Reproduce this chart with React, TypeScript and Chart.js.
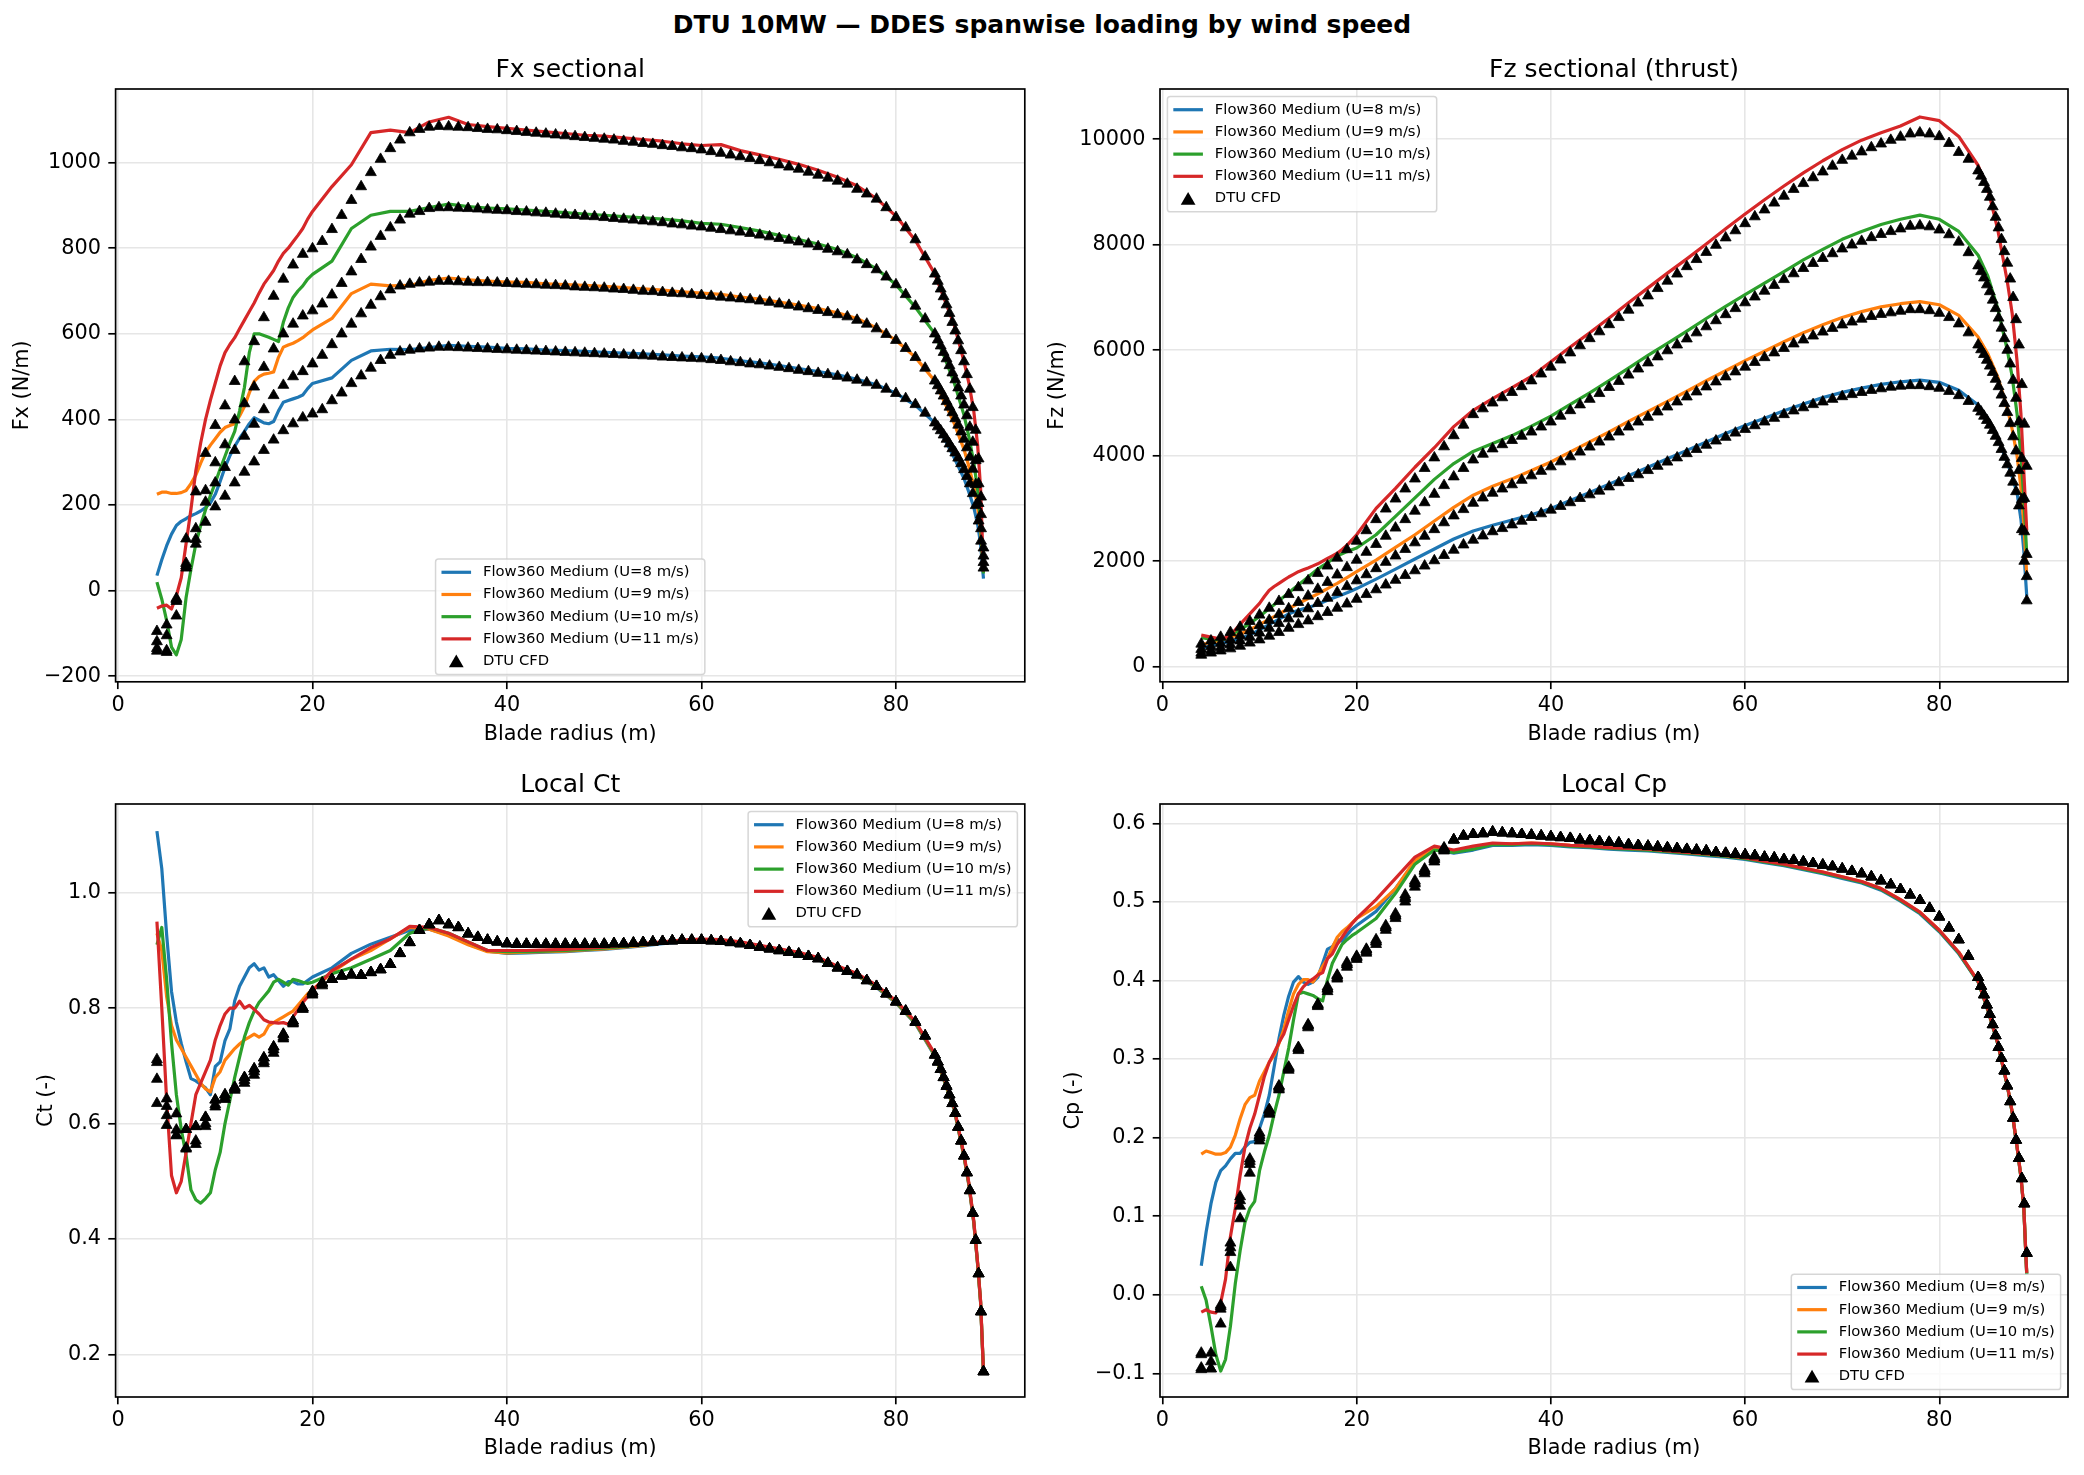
import React, { useEffect, useRef } from "react";
import { Chart, registerables } from "chart.js";

Chart.register(...registerables);

const FONT = '"DejaVu Sans", "Liberation Sans", sans-serif';
Chart.defaults.font.family = FONT;

// ---------------- shared data ----------------
const SPEEDS = ["8", "9", "10", "11"];
const COLORS = ["#1f77b4", "#ff7f0e", "#2ca02c", "#d62728"];
const X_TICKS = [0, 20, 40, 60, 80];

const LINE_X = [4, 4.5, 5, 5.5, 6, 6.5, 7, 7.5, 8, 8.5, 9, 9.5, 10, 10.5, 11, 11.5, 12, 12.5, 13, 13.5, 14, 14.5, 15, 15.5, 16, 16.5, 17, 17.5, 18, 18.5, 19, 19.5, 20,
  22, 24, 26, 28, 30, 32, 34, 36, 38, 40, 42, 44, 46, 48, 50, 52, 54, 56, 58, 60, 62, 64, 66, 68, 70, 72, 74, 76, 78, 80, 82,
  84, 85, 86, 87, 87.5, 88, 88.4, 88.7, 89];

const DTU_X = [4, 5, 6, 7, 8, 9, 10, 11, 12, 13, 14, 15, 16, 17, 18, 19, 20, 21, 22, 23, 24, 25, 26, 27, 28, 29, 30, 31, 32, 33,
  34, 35, 36, 37, 38, 39, 40, 41, 42, 43, 44, 45, 46, 47, 48, 49, 50, 51, 52, 53, 54, 55, 56, 57, 58, 59, 60, 61, 62, 63, 64,
  65, 66, 67, 68, 69, 70, 71, 72, 73, 74, 75, 76, 77, 78, 79, 80, 81, 82, 83, 84,
  84.3, 84.6, 84.9, 85.2, 85.5, 85.8, 86.1, 86.4, 86.7, 87, 87.3, 87.6, 87.9, 88.2, 88.5, 88.75, 89];

// ---------------- Fx sectional ----------------
const FX_TICKS = [-200, 0, 200, 400, 600, 800, 1000];
const FX_LINE_8 = [35, 72, 105, 132, 152, 162, 168, 175, 180, 186, 194, 205, 225, 255, 288, 315, 337, 356, 372, 390, 404, 398, 392, 390, 395, 420, 440, 444, 448, 452, 457, 472, 484,
  497, 538, 560, 564, 563, 568, 573, 571, 569, 566, 565, 562, 561, 559, 557, 555, 553, 551, 548, 546, 543, 537, 532, 526, 519, 512, 504, 494, 481, 461, 433,
  392, 354, 310, 262, 230, 195, 155, 110, 28];
const FX_LINE_9 = [225, 230, 230, 227, 227, 229, 234, 250, 270, 298, 323, 340, 355, 370, 381, 386, 390, 408, 430, 462, 489, 500, 506, 508, 511, 545, 569, 574, 578, 584, 591, 600, 609,
  636, 694, 716, 712, 713, 725, 730, 726, 723, 721, 720, 717, 715, 713, 711, 708, 705, 702, 698, 695, 692, 686, 681, 674, 667, 659, 649, 636, 614, 585, 545,
  490, 440, 390, 330, 290, 245, 195, 140, 45];
const FX_LINE_10 = [20, -20, -70, -132, -150, -114, -16, 50, 109, 152, 189, 222, 252, 284, 314, 345, 372, 420, 475, 556, 600, 600, 596, 592, 587, 582, 627, 660, 685, 700, 712, 728, 739,
  770, 846, 877, 886, 886, 895, 903, 897, 894, 892, 889, 886, 883, 880, 877, 874, 871, 868, 864, 858, 856, 848, 840, 830, 820, 810, 797, 778, 752, 715, 662,
  600, 545, 485, 410, 360, 300, 235, 160, 40];
const FX_LINE_11 = [-41, -36, -34, -43, -12, 30, 110, 190, 280, 345, 400, 445, 485, 525, 556, 575, 591, 612, 632, 652, 672, 695, 716, 732, 748, 770, 788, 800, 815, 830, 846, 868, 886,
  944, 995, 1070, 1076, 1070, 1095, 1106, 1089, 1084, 1080, 1076, 1072, 1068, 1064, 1062, 1058, 1054, 1050, 1044, 1040, 1042, 1028, 1018, 1008, 996, 982, 966, 946, 916, 875, 818,
  740, 680, 620, 535, 485, 420, 340, 240, 45];

const FX_DTU_8 = [-95, -80, -21, 53, 109, 160, 196, 221, 252, 277, 301, 328, 352, 374, 390, 404, 413, 423, 444, 462, 484, 502, 520, 538, 550, 558, 562, 565, 567, 569,
  569, 568, 567, 566, 565, 564, 563, 562, 561, 560, 559, 558, 557, 556, 555, 554, 553, 552, 551, 550, 549, 548, 546, 545, 544, 543, 542, 540, 538, 535, 533,
  530, 528, 525, 522, 519, 515, 512, 508, 505, 501, 497, 492, 486, 480, 471, 461, 449, 435, 415, 392,
  383, 374, 364, 354, 343, 332, 322, 310, 297, 283, 267, 250, 227, 199, 163, 116, 53];
const FX_DTU_9 = [-119, -105, -59, 58, 120, 207, 252, 288, 328, 361, 389, 423, 456, 480, 500, 512, 530, 550, 575, 600, 623, 647, 667, 687, 703, 712, 716, 719, 721, 723,
  723, 722, 721, 720, 720, 719, 718, 717, 716, 715, 714, 713, 712, 710, 709, 708, 707, 705, 704, 702, 700, 699, 697, 695, 694, 692, 690, 688, 686, 684, 682,
  680, 677, 674, 670, 667, 663, 659, 655, 650, 645, 640, 632, 623, 612, 599, 585, 566, 545, 520, 490,
  479, 467, 455, 442, 429, 416, 402, 387, 371, 354, 334, 312, 284, 248, 204, 145, 66];
const FX_DTU_10 = [-141, -144, -25, 64, 145, 234, 299, 341, 399, 437, 476, 522, 565, 600, 623, 642, 654, 670, 691, 718, 745, 774, 803, 828, 848, 866, 880, 886, 893, 895,
  895, 894, 893, 892, 890, 889, 888, 886, 885, 883, 882, 880, 878, 877, 875, 874, 872, 870, 868, 866, 864, 862, 860, 857, 855, 852, 850, 847, 844, 841, 838,
  835, 831, 827, 823, 819, 815, 810, 804, 798, 792, 785, 773, 762, 750, 733, 715, 692, 665, 635, 600,
  586, 572, 557, 542, 526, 509, 493, 474, 455, 434, 409, 382, 347, 304, 250, 178, 81];
const FX_DTU_11 = [-135, -140, -18, 121, 231, 321, 386, 432, 489, 535, 582, 638, 688, 728, 761, 786, 799, 816, 844, 877, 912, 944, 977, 1008, 1033, 1053, 1070, 1078, 1083, 1085,
  1084, 1083, 1082, 1080, 1078, 1077, 1075, 1073, 1071, 1069, 1067, 1065, 1063, 1061, 1059, 1057, 1055, 1053, 1050, 1048, 1045, 1043, 1040, 1038, 1035, 1033, 1030, 1026, 1022, 1018, 1014,
  1010, 1005, 1000, 995, 990, 985, 978, 971, 964, 957, 950, 938, 927, 915, 895, 872, 848, 820, 780, 740,
  723, 705, 687, 668, 648, 627, 607, 584, 561, 535, 505, 471, 428, 375, 308, 219, 100];

// ---------------- Fz sectional (thrust) ----------------
const FZ_TICKS = [0, 2000, 4000, 6000, 8000, 10000];
const FZ_LINE_8 = [350, 370, 400, 420, 440, 460, 480, 505, 530, 565, 600, 650, 700, 750, 800, 850, 900, 950, 1000, 1035, 1070, 1095, 1120, 1150, 1180, 1220, 1260, 1295, 1330, 1365, 1400, 1440, 1480,
  1660, 1850, 2040, 2230, 2420, 2570, 2680, 2780, 2880, 3000, 3150, 3300, 3460, 3620, 3780, 3940, 4100, 4260, 4420, 4570, 4710, 4850, 4980, 5100, 5200, 5280, 5350, 5400, 5430, 5390, 5240,
  4960, 4700, 4330, 3870, 3600, 3300, 2800, 2200, 1340];
const FZ_LINE_9 = [420, 440, 460, 480, 500, 530, 560, 590, 620, 660, 700, 750, 800, 850, 900, 950, 1000, 1050, 1100, 1150, 1200, 1245, 1290, 1335, 1380, 1430, 1480, 1530, 1580, 1635, 1690, 1745, 1800,
  2020, 2260, 2500, 2760, 3020, 3250, 3420, 3560, 3720, 3880, 4070, 4260, 4450, 4650, 4840, 5030, 5220, 5420, 5610, 5800, 5980, 6160, 6330, 6480, 6620, 6730, 6820, 6880, 6920, 6860, 6660,
  6250, 5930, 5500, 4900, 4500, 4000, 3400, 2700, 1740];
const FZ_LINE_10 = [550, 535, 520, 510, 500, 540, 600, 650, 700, 760, 820, 885, 950, 1025, 1100, 1175, 1250, 1325, 1400, 1475, 1550, 1625, 1700, 1775, 1850, 1910, 1970, 2035, 2100, 2140, 2180, 2215, 2250,
  2500, 2850, 3200, 3550, 3850, 4080, 4230, 4380, 4560, 4750, 4970, 5190, 5420, 5660, 5900, 6130, 6360, 6600, 6830, 7050, 7270, 7490, 7710, 7910, 8100, 8250, 8380, 8480, 8560, 8480, 8250,
  7800, 7400, 6800, 6000, 5500, 4800, 4000, 3200, 2140];
const FZ_LINE_11 = [600, 580, 560, 540, 520, 550, 600, 700, 800, 900, 1000, 1100, 1200, 1330, 1450, 1520, 1580, 1640, 1700, 1750, 1800, 1835, 1870, 1910, 1950, 2000, 2050, 2100, 2150, 2220, 2300, 2400, 2500,
  3000, 3380, 3780, 4150, 4550, 4860, 5080, 5290, 5500, 5780, 6060, 6330, 6610, 6900, 7180, 7460, 7730, 8010, 8300, 8580, 8850, 9110, 9360, 9590, 9800, 9980, 10120, 10250, 10420, 10350, 10050,
  9500, 9050, 8300, 7300, 6700, 5800, 4800, 3700, 2580];

const FZ_DTU_8 = [220, 260, 300, 340, 390, 450, 510, 580, 650, 730, 800, 870, 950, 1030, 1110, 1190, 1280, 1370, 1460, 1550,
  1640, 1730, 1820, 1910, 2010, 2110, 2210, 2310, 2400, 2480, 2560, 2620, 2690, 2760, 2830, 2900, 2970, 3040, 3110, 3190,
  3260, 3330, 3410, 3490, 3570, 3640, 3720, 3800, 3880, 3960, 4040, 4120, 4200, 4280, 4350, 4430, 4500, 4570, 4640, 4710,
  4780, 4850, 4910, 4970, 5020, 5070, 5120, 5160, 5200, 5240, 5270, 5300, 5320, 5330, 5330, 5310, 5280, 5220, 5140, 5030, 4900,
  4830, 4750, 4670, 4580, 4480, 4370, 4250, 4120, 3970, 3830, 3670, 3500, 3320, 3050, 2600, 2000, 1250];
const FZ_DTU_9 = [260, 310, 360, 420, 490, 560, 640, 730, 820, 910, 1000, 1100, 1200, 1300, 1410, 1520, 1630, 1745, 1860, 1980,
  2100, 2225, 2350, 2475, 2600, 2730, 2860, 2980, 3100, 3200, 3290, 3370, 3450, 3535, 3620, 3705, 3790, 3885, 3980, 4070,
  4165, 4260, 4355, 4450, 4545, 4640, 4730, 4830, 4925, 5020, 5115, 5210, 5305, 5400, 5495, 5590, 5680, 5770, 5860, 5950,
  6035, 6120, 6195, 6270, 6345, 6415, 6480, 6535, 6590, 6640, 6680, 6710, 6740, 6770, 6770, 6750, 6700, 6620, 6500, 6330, 6100,
  6010, 5920, 5810, 5700, 5580, 5450, 5310, 5150, 4990, 4820, 4610, 4360, 4090, 3720, 3170, 2560, 1710];
const FZ_DTU_10 = [330, 380, 440, 510, 590, 680, 780, 880, 990, 1100, 1220, 1340, 1470, 1600, 1740, 1880, 2020, 2170, 2320, 2475,
  2630, 2790, 2950, 3110, 3270, 3435, 3600, 3760, 3920, 4030, 4130, 4210, 4290, 4370, 4450, 4545, 4640, 4750, 4855, 4965,
  5070, 5180, 5295, 5410, 5530, 5645, 5760, 5875, 5990, 6100, 6215, 6330, 6445, 6560, 6675, 6790, 6900, 7010, 7120, 7230,
  7340, 7450, 7550, 7645, 7740, 7830, 7920, 7995, 8065, 8135, 8195, 8250, 8300, 8350, 8360, 8340, 8280, 8190, 8050, 7850, 7600,
  7490, 7370, 7240, 7110, 6950, 6790, 6610, 6420, 6220, 6000, 5740, 5430, 5090, 4640, 3950, 3190, 2130];
const FZ_DTU_11 = [430, 490, 560, 650, 750, 860, 980, 1110, 1240, 1370, 1500, 1630, 1770, 1910, 2060, 2220, 2380, 2580, 2790, 2990,
  3180, 3370, 3560, 3760, 3960, 4170, 4380, 4580, 4780, 4890, 5000, 5100, 5200, 5310, 5420, 5550, 5680, 5815, 5950, 6085,
  6220, 6350, 6485, 6620, 6760, 6895, 7030, 7170, 7310, 7445, 7585, 7720, 7855, 7990, 8130, 8265, 8400, 8530, 8660, 8790,
  8920, 9050, 9160, 9270, 9380, 9490, 9600, 9680, 9760, 9840, 9910, 9980, 10040, 10100, 10120, 10100, 10050, 9920, 9750, 9620, 9400,
  9300, 9180, 9050, 8900, 8720, 8520, 8320, 8100, 7870, 7650, 7350, 7000, 6580, 6100, 5350, 4600, 3800];

// ---------------- Local Ct ----------------
const CT_TICKS = [0.2, 0.4, 0.6, 0.8, 1.0];
const CT_LINE_8 = [1.107, 1.042, 0.927, 0.829, 0.776, 0.739, 0.707, 0.678, 0.674, 0.668, 0.662, 0.650, 0.699, 0.707, 0.744, 0.764, 0.813, 0.838, 0.854, 0.870, 0.877, 0.866, 0.870, 0.854, 0.858, 0.848, 0.838, 0.846, 0.846, 0.842, 0.842, 0.848, 0.854,
  0.870, 0.895, 0.911, 0.923, 0.935, 0.937, 0.927, 0.911, 0.899, 0.895, 0.896, 0.897, 0.898, 0.900, 0.902, 0.905, 0.908, 0.912, 0.915, 0.917, 0.915, 0.911, 0.905, 0.899, 0.893, 0.884, 0.869, 0.856, 0.836, 0.809, 0.773,
  0.717, 0.672, 0.623, 0.542, 0.493, 0.428, 0.355, 0.290, 0.168];
const CT_LINE_9 = [0.930, 0.900, 0.820, 0.770, 0.745, 0.730, 0.715, 0.700, 0.685, 0.670, 0.660, 0.655, 0.680, 0.690, 0.710, 0.720, 0.730, 0.738, 0.745, 0.750, 0.755, 0.750, 0.755, 0.770, 0.775, 0.780, 0.785, 0.790, 0.795, 0.805, 0.815, 0.825, 0.832,
  0.862, 0.885, 0.900, 0.920, 0.940, 0.937, 0.925, 0.910, 0.898, 0.896, 0.897, 0.898, 0.899, 0.901, 0.903, 0.906, 0.909, 0.913, 0.916, 0.918, 0.916, 0.912, 0.906, 0.900, 0.894, 0.885, 0.870, 0.857, 0.837, 0.810, 0.774,
  0.718, 0.673, 0.624, 0.543, 0.494, 0.429, 0.356, 0.291, 0.169];
const CT_LINE_10 = [0.910, 0.940, 0.850, 0.740, 0.650, 0.590, 0.545, 0.485, 0.468, 0.462, 0.470, 0.480, 0.520, 0.550, 0.600, 0.640, 0.680, 0.715, 0.750, 0.775, 0.795, 0.810, 0.820, 0.830, 0.845, 0.850, 0.845, 0.840, 0.850, 0.848, 0.845, 0.843, 0.845,
  0.860, 0.870, 0.885, 0.900, 0.930, 0.940, 0.930, 0.915, 0.900, 0.898, 0.898, 0.899, 0.900, 0.902, 0.904, 0.907, 0.910, 0.914, 0.917, 0.919, 0.917, 0.913, 0.907, 0.901, 0.895, 0.886, 0.871, 0.858, 0.838, 0.811, 0.775,
  0.719, 0.674, 0.625, 0.544, 0.495, 0.430, 0.357, 0.292, 0.170];
const CT_LINE_11 = [0.950, 0.800, 0.640, 0.510, 0.480, 0.500, 0.550, 0.600, 0.650, 0.670, 0.690, 0.710, 0.745, 0.770, 0.790, 0.800, 0.800, 0.812, 0.800, 0.805, 0.798, 0.790, 0.780, 0.776, 0.775, 0.774, 0.775, 0.772, 0.785, 0.797, 0.810, 0.820, 0.830,
  0.865, 0.885, 0.905, 0.920, 0.942, 0.940, 0.930, 0.915, 0.900, 0.900, 0.900, 0.901, 0.902, 0.904, 0.906, 0.909, 0.912, 0.915, 0.918, 0.920, 0.919, 0.915, 0.909, 0.903, 0.897, 0.888, 0.873, 0.860, 0.840, 0.813, 0.777,
  0.721, 0.676, 0.627, 0.546, 0.497, 0.432, 0.359, 0.294, 0.172];

// DTU Ct: root part (r = 4..21 m) differs per wind speed, outer part (22 m to tip) is common
const CT_DTU_8_ROOT = [0.711, 0.643, 0.617, 0.590, 0.595, 0.611, 0.641, 0.650, 0.663, 0.680, 0.695, 0.714, 0.733, 0.755, 0.778, 0.801, 0.829, 0.844];
const CT_DTU_9_ROOT = [0.706, 0.630, 0.589, 0.558, 0.570, 0.595, 0.629, 0.642, 0.658, 0.670, 0.684, 0.704, 0.722, 0.747, 0.773, 0.798, 0.823, 0.839];
const CT_DTU_10_ROOT = [0.677, 0.614, 0.579, 0.556, 0.564, 0.600, 0.633, 0.645, 0.660, 0.675, 0.690, 0.708, 0.728, 0.750, 0.775, 0.800, 0.826, 0.842];
const CT_DTU_11_ROOT = [0.635, 0.597, 0.580, 0.590, 0.595, 0.611, 0.641, 0.650, 0.663, 0.680, 0.695, 0.714, 0.733, 0.755, 0.778, 0.801, 0.829, 0.844];
const CT_DTU_OUTER = [0.850, 0.856, 0.858, 0.857, 0.862, 0.867, 0.876, 0.895, 0.914, 0.935, 0.945, 0.952, 0.945, 0.940, 0.929, 0.923, 0.918, 0.915, 0.912,
  0.911, 0.911, 0.911, 0.911, 0.911, 0.911, 0.911, 0.911, 0.911, 0.911,
  0.912, 0.912, 0.913, 0.914, 0.915, 0.916, 0.917, 0.918, 0.918, 0.918,
  0.917, 0.916, 0.914, 0.912, 0.909, 0.906, 0.903, 0.900, 0.897, 0.894,
  0.890, 0.886, 0.878, 0.870, 0.864, 0.858, 0.848, 0.838, 0.825, 0.811,
  0.795, 0.776, 0.752, 0.719,
  0.707, 0.694, 0.680, 0.665, 0.650, 0.635, 0.618, 0.594, 0.570, 0.544, 0.515, 0.484, 0.445, 0.398, 0.340, 0.274, 0.170];

// ---------------- Local Cp ----------------
const CP_TICKS = [-0.1, 0.0, 0.1, 0.2, 0.3, 0.4, 0.5, 0.6];
const CP_LINE_8 = [0.037, 0.080, 0.116, 0.143, 0.158, 0.164, 0.173, 0.180, 0.180, 0.188, 0.194, 0.195, 0.212, 0.230, 0.254, 0.290, 0.326, 0.356, 0.380, 0.398, 0.405, 0.398, 0.395, 0.398, 0.404, 0.422, 0.440, 0.443, 0.452, 0.450, 0.458, 0.465, 0.470,
  0.488, 0.517, 0.551, 0.567, 0.562, 0.566, 0.572, 0.572, 0.573, 0.572, 0.570, 0.569, 0.567, 0.566, 0.565, 0.563, 0.561, 0.559, 0.557, 0.554, 0.550, 0.546, 0.541, 0.536, 0.530, 0.524, 0.515, 0.501, 0.485, 0.462, 0.434,
  0.398, 0.362, 0.320, 0.266, 0.232, 0.188, 0.150, 0.110, 0.026];
const CP_LINE_9 = [0.179, 0.183, 0.181, 0.179, 0.179, 0.181, 0.188, 0.203, 0.224, 0.242, 0.251, 0.254, 0.272, 0.284, 0.296, 0.305, 0.320, 0.338, 0.362, 0.383, 0.395, 0.401, 0.401, 0.398, 0.407, 0.418, 0.428, 0.442, 0.455, 0.462, 0.467, 0.473, 0.479,
  0.494, 0.517, 0.553, 0.567, 0.564, 0.568, 0.574, 0.574, 0.575, 0.574, 0.572, 0.571, 0.569, 0.568, 0.567, 0.565, 0.563, 0.561, 0.559, 0.556, 0.552, 0.548, 0.543, 0.538, 0.532, 0.526, 0.517, 0.503, 0.487, 0.464, 0.436,
  0.399, 0.363, 0.321, 0.267, 0.233, 0.189, 0.151, 0.111, 0.027];
const CP_LINE_10 = [0.011, -0.007, -0.040, -0.076, -0.097, -0.082, -0.040, 0.014, 0.056, 0.092, 0.110, 0.119, 0.158, 0.182, 0.203, 0.230, 0.254, 0.284, 0.314, 0.350, 0.383, 0.385, 0.383, 0.381, 0.377, 0.374, 0.401, 0.422, 0.434, 0.446, 0.452, 0.457, 0.461,
  0.479, 0.511, 0.548, 0.566, 0.563, 0.567, 0.573, 0.573, 0.574, 0.573, 0.571, 0.570, 0.568, 0.567, 0.566, 0.564, 0.562, 0.560, 0.558, 0.555, 0.551, 0.547, 0.542, 0.537, 0.531, 0.525, 0.516, 0.502, 0.486, 0.463, 0.435,
  0.398, 0.362, 0.320, 0.266, 0.232, 0.188, 0.150, 0.110, 0.026];
const CP_LINE_11 = [-0.022, -0.019, -0.022, -0.023, -0.010, 0.020, 0.074, 0.110, 0.152, 0.188, 0.212, 0.230, 0.254, 0.278, 0.296, 0.308, 0.321, 0.332, 0.350, 0.368, 0.383, 0.392, 0.398, 0.402, 0.407, 0.410, 0.428, 0.434, 0.446, 0.455, 0.464, 0.472, 0.479,
  0.503, 0.530, 0.557, 0.571, 0.566, 0.571, 0.575, 0.574, 0.575, 0.574, 0.572, 0.571, 0.569, 0.568, 0.567, 0.565, 0.563, 0.561, 0.559, 0.556, 0.552, 0.548, 0.543, 0.538, 0.532, 0.526, 0.517, 0.503, 0.487, 0.464, 0.436,
  0.399, 0.363, 0.321, 0.267, 0.233, 0.189, 0.151, 0.111, 0.028];

// DTU Cp: root part (4..29 m) per wind speed, outer part (30 m to tip) common
const CP_DTU_8_ROOT = [-0.074, -0.074, -0.013, 0.066, 0.125, 0.173, 0.206, 0.236, 0.266, 0.290, 0.315, 0.344, 0.370, 0.392, 0.407, 0.423, 0.431, 0.440, 0.452, 0.470, 0.485, 0.509, 0.527, 0.542, 0.557, 0.569];
const CP_DTU_9_ROOT = [-0.093, -0.085, -0.018, 0.054, 0.113, 0.166, 0.200, 0.230, 0.261, 0.286, 0.311, 0.340, 0.367, 0.386, 0.402, 0.417, 0.427, 0.435, 0.446, 0.464, 0.479, 0.500, 0.519, 0.536, 0.551, 0.565];
const CP_DTU_10_ROOT = [-0.095, -0.094, -0.037, 0.035, 0.097, 0.155, 0.196, 0.232, 0.263, 0.288, 0.313, 0.342, 0.368, 0.389, 0.404, 0.420, 0.429, 0.437, 0.449, 0.467, 0.482, 0.504, 0.523, 0.539, 0.554, 0.567];
const CP_DTU_11_ROOT = [-0.076, -0.094, -0.015, 0.060, 0.120, 0.170, 0.203, 0.235, 0.265, 0.289, 0.314, 0.343, 0.369, 0.390, 0.406, 0.421, 0.430, 0.439, 0.450, 0.468, 0.483, 0.506, 0.525, 0.540, 0.555, 0.568];
const CP_DTU_OUTER = [0.579, 0.584, 0.586, 0.587, 0.589, 0.588, 0.587, 0.586, 0.585, 0.584, 0.583,
  0.582, 0.581, 0.579, 0.578, 0.577, 0.576, 0.575, 0.573, 0.572, 0.571,
  0.570, 0.569, 0.568, 0.567, 0.566, 0.565, 0.563, 0.562, 0.561, 0.560,
  0.559, 0.557, 0.556, 0.554, 0.553, 0.551, 0.549, 0.547, 0.545, 0.542,
  0.539, 0.536, 0.532, 0.527, 0.522, 0.516, 0.509, 0.502, 0.492, 0.481,
  0.467, 0.452, 0.431, 0.404,
  0.393, 0.382, 0.369, 0.357, 0.344, 0.330, 0.315, 0.301, 0.285, 0.266, 0.246, 0.225, 0.197, 0.174, 0.148, 0.116, 0.053];

// ---------------- helpers ----------------
const MINUS = "\u2212";
const fmtInt = (v: number) => (v < 0 ? MINUS + String(Math.abs(Math.round(v))) : String(Math.round(v)));
const fmtOne = (v: number) => {
  const s = Math.abs(v).toFixed(1);
  return v < -1e-9 ? MINUS + s : s;
};

function pair(xs: number[], ys: number[]) {
  const n = Math.min(xs.length, ys.length);
  const out: { x: number; y: number }[] = [];
  for (let i = 0; i < n; i++) out.push({ x: xs[i], y: ys[i] });
  return out;
}

type Loc = "lower center" | "upper left" | "upper right" | "lower right";
type Rect = { x: number; y: number; w: number; h: number };
type Axes = { l: number; t: number; r: number; b: number };

type PanelSpec = {
  title: string;
  ylabel: string;
  lines: number[][];
  dtu: number[][];
  yMin: number;
  yMax: number;
  yTicks: number[];
  fmt: (v: number) => string;
  loc: Loc;
  canvas: Rect;
  axes: Axes;
  ylabelPad: number;
  xlabelPad: number;
};

const GRID = "#e6e6e6";
const TICK_FONT = 20.8;
const LEGEND_FS = 14.8;
const LINE_W = 3.2;
const TRI_R = 6.3;
const LEGEND_TRI_R = 8.5;

function triPath(ctx: CanvasRenderingContext2D, x: number, y: number, r: number) {
  let rad = 0;
  ctx.beginPath();
  ctx.moveTo(x + Math.sin(rad) * r, y - Math.cos(rad) * r);
  rad += (2 * Math.PI) / 3;
  ctx.lineTo(x + Math.sin(rad) * r, y - Math.cos(rad) * r);
  rad += (2 * Math.PI) / 3;
  ctx.lineTo(x + Math.sin(rad) * r, y - Math.cos(rad) * r);
  ctx.closePath();
}

function makeDecor(spec: PanelSpec) {
  return {
    id: "mplDecor",
    afterDraw(chart: any) {
      const ctx: CanvasRenderingContext2D = chart.ctx;
      const a = chart.chartArea;
      ctx.save();
      // spines
      ctx.strokeStyle = "#000";
      ctx.lineWidth = 1.67;
      ctx.strokeRect(a.left, a.top, a.right - a.left, a.bottom - a.top);
      // subplot title
      ctx.fillStyle = "#000";
      ctx.font = `25px ${FONT}`;
      ctx.textAlign = "center";
      ctx.textBaseline = "alphabetic";
      ctx.fillText(spec.title, (a.left + a.right) / 2, a.top - 12.5);
      // legend
      const fs = LEGEND_FS;
      ctx.font = `${fs}px ${FONT}`;
      const labels = [...SPEEDS.map((s) => `Flow360 Medium (U=${s} m/s)`), "DTU CFD"];
      const tw = Math.max(...labels.map((l) => ctx.measureText(l).width));
      const bp = 0.4 * fs, ls = 0.5 * fs, hl = 2 * fs, htp = 0.8 * fs, bap = 0.5 * fs, rh = fs;
      const W = 2 * bp + hl + htp + tw;
      const H = 2 * bp + labels.length * rh + (labels.length - 1) * ls;
      let x = a.left + bap, y = a.top + bap;
      if (spec.loc === "lower center") { x = (a.left + a.right) / 2 - W / 2; y = a.bottom - bap - H; }
      else if (spec.loc === "upper right") { x = a.right - bap - W; y = a.top + bap; }
      else if (spec.loc === "lower right") { x = a.right - bap - W; y = a.bottom - bap - H; }
      const rr = 0.2 * fs;
      ctx.beginPath();
      ctx.moveTo(x + rr, y);
      ctx.lineTo(x + W - rr, y);
      ctx.arcTo(x + W, y, x + W, y + rr, rr);
      ctx.lineTo(x + W, y + H - rr);
      ctx.arcTo(x + W, y + H, x + W - rr, y + H, rr);
      ctx.lineTo(x + rr, y + H);
      ctx.arcTo(x, y + H, x, y + H - rr, rr);
      ctx.lineTo(x, y + rr);
      ctx.arcTo(x, y, x + rr, y, rr);
      ctx.closePath();
      ctx.fillStyle = "rgba(255,255,255,0.8)";
      ctx.fill();
      ctx.strokeStyle = "rgba(204,204,204,0.8)";
      ctx.lineWidth = 1.5;
      ctx.stroke();
      labels.forEach((lab, i) => {
        const cy = y + bp + rh / 2 + i * (rh + ls);
        const hx = x + bp;
        if (i < 4) {
          ctx.strokeStyle = COLORS[i];
          ctx.lineWidth = LINE_W;
          ctx.beginPath();
          ctx.moveTo(hx, cy);
          ctx.lineTo(hx + hl, cy);
          ctx.stroke();
        } else {
          triPath(ctx, hx + hl / 2, cy + 2, LEGEND_TRI_R);
          ctx.fillStyle = "#000";
          ctx.fill();
        }
        ctx.fillStyle = "#000";
        ctx.textAlign = "left";
        ctx.textBaseline = "middle";
        ctx.fillText(lab, hx + hl + htp, cy);
      });
      ctx.restore();
    },
  };
}

function Panel({ spec }: { spec: PanelSpec }) {
  const ref = useRef<HTMLCanvasElement | null>(null);
  useEffect(() => {
    if (!ref.current) return;
    const cv = spec.canvas;
    const ax = spec.axes;
    const datasets: any[] = [];
    spec.dtu.forEach((ys) => {
      datasets.push({
        label: "DTU CFD",
        data: pair(DTU_X, ys),
        showLine: false,
        pointStyle: "triangle",
        pointRadius: TRI_R,
        pointBackgroundColor: "#000",
        pointBorderColor: "#000",
        pointBorderWidth: 0.8,
        order: 0,
      });
    });
    spec.lines.forEach((ys, i) => {
      datasets.push({
        label: `Flow360 Medium (U=${SPEEDS[i]} m/s)`,
        data: pair(LINE_X, ys),
        showLine: true,
        borderColor: COLORS[i],
        backgroundColor: COLORS[i],
        borderWidth: LINE_W,
        borderJoinStyle: "round",
        pointRadius: 0,
        fill: false,
        tension: 0,
        // later wind speeds are drawn on top (as in the reference)
        order: 4 - i,
      });
    });
    const chart = new Chart(ref.current, {
      type: "scatter",
      data: { datasets },
      options: {
        responsive: false,
        animation: false,
        devicePixelRatio: 1,
        events: [],
        layout: { padding: { left: 0, top: ax.t - cv.y, right: cv.w - (ax.r - cv.x), bottom: 0 } },
        plugins: { legend: { display: false }, tooltip: { enabled: false }, title: { display: false } },
        scales: {
          x: {
            type: "linear",
            min: -0.25,
            max: 93.25,
            bounds: "data",
            afterBuildTicks: (s: any) => { s.ticks = X_TICKS.map((v) => ({ value: v })); },
            afterFit: (s: any) => { s.height = cv.h - (ax.b - cv.y); },
            ticks: { font: { size: TICK_FONT, family: FONT }, color: "#000", padding: 4, maxRotation: 0, autoSkip: false, callback: (v: any) => fmtInt(Number(v)) },
            grid: { color: GRID, lineWidth: 1.6, tickLength: 7.3, tickColor: "#000", tickWidth: 1.67 },
            border: { display: false },
            title: { display: true, text: "Blade radius (m)", font: { size: TICK_FONT, family: FONT }, color: "#000", padding: { top: 0, bottom: spec.xlabelPad } },
          },
          y: {
            type: "linear",
            min: spec.yMin,
            max: spec.yMax,
            bounds: "data",
            afterBuildTicks: (s: any) => { s.ticks = spec.yTicks.map((v) => ({ value: v })); },
            afterFit: (s: any) => { s.width = ax.l - cv.x; },
            ticks: { font: { size: TICK_FONT, family: FONT }, color: "#000", padding: 7.3, autoSkip: false, callback: (v: any) => spec.fmt(Number(v)) },
            grid: { color: GRID, lineWidth: 1.6, tickLength: 7.3, tickColor: "#000", tickWidth: 1.67 },
            border: { display: false },
            title: { display: true, text: spec.ylabel, font: { size: TICK_FONT, family: FONT }, color: "#000", padding: { top: spec.ylabelPad, bottom: 0 } },
          },
        },
      } as any,
      plugins: [makeDecor(spec) as any],
    });
    return () => chart.destroy();
  }, [spec]);
  const c = spec.canvas;
  return (
    <canvas
      ref={ref}
      width={c.w}
      height={c.h}
      style={{ position: "absolute", left: c.x, top: c.y, width: c.w, height: c.h }}
    />
  );
}

const PANELS: PanelSpec[] = [
  {
    title: "Fx sectional", ylabel: "Fx (N/m)",
    lines: [FX_LINE_8, FX_LINE_9, FX_LINE_10, FX_LINE_11],
    dtu: [FX_DTU_8, FX_DTU_9, FX_DTU_10, FX_DTU_11],
    yMin: -213, yMax: 1172, yTicks: FX_TICKS, fmt: fmtInt, loc: "lower center",
    canvas: { x: 0, y: 0, w: 1042, h: 762 }, axes: { l: 115.6, t: 89, r: 1024.8, b: 681.8 },
    ylabelPad: 10, xlabelPad: 14.5,
  },
  {
    title: "Fz sectional (thrust)", ylabel: "Fz (N/m)",
    lines: [FZ_LINE_8, FZ_LINE_9, FZ_LINE_10, FZ_LINE_11],
    dtu: [FZ_DTU_8, FZ_DTU_9, FZ_DTU_10, FZ_DTU_11],
    yMin: -287, yMax: 10950, yTicks: FZ_TICKS, fmt: fmtInt, loc: "upper left",
    canvas: { x: 1042, y: 0, w: 1042, h: 762 }, axes: { l: 1160, t: 89, r: 2068, b: 681.8 },
    ylabelPad: 3.5, xlabelPad: 14.5,
  },
  {
    title: "Local Ct", ylabel: "Ct (-)",
    lines: [CT_LINE_8, CT_LINE_9, CT_LINE_10, CT_LINE_11],
    dtu: [
      [...CT_DTU_8_ROOT, ...CT_DTU_OUTER],
      [...CT_DTU_9_ROOT, ...CT_DTU_OUTER],
      [...CT_DTU_10_ROOT, ...CT_DTU_OUTER],
      [...CT_DTU_11_ROOT, ...CT_DTU_OUTER],
    ],
    yMin: 0.126, yMax: 1.154, yTicks: CT_TICKS, fmt: fmtOne, loc: "upper right",
    canvas: { x: 0, y: 762, w: 1042, h: 713 }, axes: { l: 115.6, t: 804, r: 1024.8, b: 1397 },
    ylabelPad: 34, xlabelPad: 13.5,
  },
  {
    title: "Local Cp", ylabel: "Cp (-)",
    lines: [CP_LINE_8, CP_LINE_9, CP_LINE_10, CP_LINE_11],
    dtu: [
      [...CP_DTU_8_ROOT, ...CP_DTU_OUTER],
      [...CP_DTU_9_ROOT, ...CP_DTU_OUTER],
      [...CP_DTU_10_ROOT, ...CP_DTU_OUTER],
      [...CP_DTU_11_ROOT, ...CP_DTU_OUTER],
    ],
    yMin: -0.130, yMax: 0.6246, yTicks: CP_TICKS, fmt: fmtOne, loc: "lower right",
    canvas: { x: 1042, y: 762, w: 1042, h: 713 }, axes: { l: 1160, t: 804, r: 2068, b: 1397 },
    ylabelPad: 19.5, xlabelPad: 13.5,
  },
];

export default function App() {
  return (
    <div style={{ position: "absolute", left: 0, top: 0, width: 2084, height: 1475, background: "#fff", overflow: "hidden" }}>
      <div
        style={{
          position: "absolute", left: 0, top: 10, width: 2084, height: 30, lineHeight: "30px",
          textAlign: "center", fontFamily: FONT, fontWeight: "bold", fontSize: 25, color: "#000",
        }}
      >
        DTU 10MW — DDES spanwise loading by wind speed
      </div>
      {PANELS.map((p) => (
        <Panel key={p.title} spec={p} />
      ))}
    </div>
  );
}
